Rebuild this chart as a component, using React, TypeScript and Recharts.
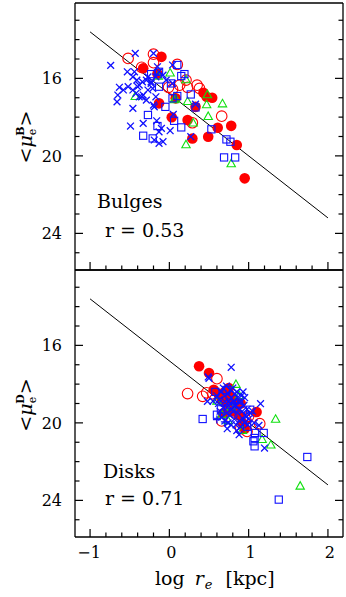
import React from "react";
import {
  ScatterChart,
  Scatter,
  XAxis,
  YAxis,
  ReferenceLine,
} from "recharts";

// ─── axis setup ───────────────────────────────────────────────────────────────
const X_DOMAIN: [number, number] = [-1.19, 2.19];
const Y_DOMAIN: [number, number] = [12.11, 25.89];
const X_TICKS = [-1, -0.8, -0.6, -0.4, -0.2, 0, 0.2, 0.4, 0.6, 0.8, 1, 1.2, 1.4, 1.6, 1.8, 2];
const X_MAJOR = [-1, 0, 1, 2];
const X_LABELS: Record<string, string> = { "-1": "\u22121", "0": "0", "1": "1", "2": "2" };
const Y_TICKS = [13, 14, 15, 16, 17, 18, 19, 20, 21, 22, 23, 24, 25];
const Y_MAJOR = [16, 20, 24];

// fitted relation  <mu_e> = a + b log r_e, same line in both panels
const FIT_START = { x: -1, y: 13.6 };
const FIT_END = { x: 2, y: 23.2 };

// ─── bulges ───────────────────────────────────────────────────────────────────
const BULGE_FILLED: [number, number][] = [
  [-0.10, 14.89], [-0.33, 15.48], [-0.15, 15.76], [-0.13, 17.29], [0.03, 18.01],
  [0.08, 17.03], [0.23, 18.15], [0.29, 19.10], [0.33, 17.47], [0.43, 16.74],
  [0.47, 16.95], [0.54, 17.00], [0.49, 19.01], [0.61, 18.55], [0.78, 18.45],
  [0.85, 19.44], [0.95, 21.16],
];
const BULGE_OPEN: [number, number][] = [
  [-0.52, 14.97], [-0.35, 15.43], [-0.20, 15.19], [-0.20, 14.75], [0.10, 15.28],
  [-0.01, 16.46], [0.21, 16.09], [0.23, 16.46], [0.35, 16.35], [0.38, 16.52],
  [0.29, 18.29], [0.66, 17.95], [0.13, 16.35], [0.04, 16.56],
];
const BULGE_TRI: [number, number][] = [
  [-0.43, 16.95], [0.01, 15.74], [-0.14, 15.90], [0.21, 16.09], [0.08, 17.08],
  [0.23, 17.21], [0.48, 16.86], [0.47, 17.38], [0.49, 17.98], [0.30, 18.32],
  [0.21, 19.44], [0.67, 17.33], [0.78, 20.42], [0.06, 17.12],
];
const BULGE_SQ: [number, number][] = [
  [0.10, 15.31], [-0.23, 15.78], [-0.13, 16.43], [0.02, 16.26], [0.15, 15.88],
  [0.19, 15.78], [0.04, 17.03], [0.10, 16.91], [0.27, 16.83], [0.33, 17.50],
  [-0.05, 17.47], [-0.27, 17.89], [0.06, 18.19], [-0.15, 18.46], [0.15, 18.53],
  [-0.33, 18.96], [-0.21, 19.10], [0.53, 18.63], [0.72, 19.15], [0.77, 19.27],
  [0.69, 20.08], [0.83, 20.08], [-0.13, 15.66],
];
const BULGE_X: [number, number][] = [
  [-0.74, 15.33], [-0.43, 14.71], [-0.20, 14.71], [-0.53, 15.66], [-0.44, 15.66],
  [-0.63, 16.46], [-0.58, 16.60], [-0.66, 17.21], [-0.46, 17.55], [-0.49, 18.46],
  [-0.33, 18.32], [-0.38, 16.35], [-0.34, 16.18], [-0.29, 16.09], [-0.27, 16.60],
  [-0.33, 16.86], [-0.38, 16.95], [-0.29, 17.12], [-0.23, 16.26], [-0.21, 16.52],
  [-0.16, 18.19], [-0.10, 18.58], [-0.13, 18.76], [-0.19, 19.18], [-0.08, 19.27],
  [-0.13, 19.35], [0.01, 18.70], [0.05, 17.86], [0.27, 19.01], [0.33, 17.33],
  [-0.19, 17.47], [-0.15, 15.40], [-0.13, 15.66], [-0.17, 15.92], [-0.04, 16.09],
  [-0.08, 15.83], [0.04, 15.31], [-0.46, 15.92], [-0.41, 16.09], [-0.40, 16.43],
  [-0.52, 16.43], [-0.46, 16.60], [-0.42, 16.77], [-0.35, 16.95], [-0.27, 15.92],
  [-0.23, 16.18], [-0.17, 16.95], [-0.20, 17.38], [0.04, 16.26], [-0.65, 16.86],
];

// ─── disks ────────────────────────────────────────────────────────────────────
const DISK_FILLED: [number, number][] = [
  [0.375, 17.08], [0.50, 17.43], [0.56, 18.29], [1.10, 19.44], [0.62, 18.5],
  [0.66, 18.8], [0.70, 18.4], [0.73, 19.0], [0.76, 18.6], [0.78, 19.4],
  [0.81, 18.8], [0.84, 19.2], [0.87, 19.6], [0.90, 19.0], [0.92, 20.0],
  [0.68, 19.5], [0.95, 20.3], [0.75, 18.2],
];
const DISK_OPEN: [number, number][] = [
  [0.23, 18.49], [0.42, 18.63], [0.47, 18.45], [0.60, 17.72], [1.14, 20.04],
  [0.98, 20.44], [0.55, 18.5], [0.96, 19.8], [0.66, 19.9], [0.90, 20.3], [1.0, 19.66],
];
const DISK_TRI: [number, number][] = [
  [1.34, 19.83], [1.28, 21.16], [1.65, 23.28], [0.84, 18.03], [1.17, 20.87],
  [0.66, 19.6], [0.78, 19.2], [0.92, 20.4], [0.60, 18.9], [0.88, 18.6], [0.74, 19.9],
];
const DISK_SQ: [number, number][] = [
  [0.42, 19.80], [0.60, 19.58], [1.08, 20.52], [1.075, 20.78], [1.06, 20.95],
  [1.075, 21.21], [1.19, 20.52], [1.74, 21.76], [1.38, 23.96], [1.02, 19.32],
  [0.58, 18.4], [0.72, 18.3], [0.98, 20.2], [0.88, 19.0], [0.65, 19.3],
];
const DISK_PLUS: [number, number][] = [[0.60, 19.83], [0.70, 19.95]];
const DISK_X: [number, number][] = [
  [0.78, 17.13], [0.49, 17.63], [0.50, 17.70], [1.15, 19.01], [1.20, 21.30],
  [0.88, 20.61], [1.13, 20.13], [0.48, 18.89], [0.55, 18.88],
  [0.65, 18.4], [0.68, 18.2], [0.70, 18.6], [0.72, 18.1], [0.74, 18.5],
  [0.75, 18.9], [0.77, 18.3], [0.78, 18.7], [0.80, 18.2], [0.81, 18.9],
  [0.83, 18.5], [0.84, 19.1], [0.86, 18.7], [0.88, 19.3], [0.90, 18.9],
  [0.92, 19.4], [0.94, 19.1], [0.96, 19.6], [0.98, 19.3], [1.00, 19.8],
  [1.02, 19.5], [0.62, 19.0], [0.64, 19.4], [0.66, 19.7], [0.68, 19.2],
  [0.70, 19.9], [0.72, 19.5], [0.74, 20.0], [0.76, 19.6], [0.78, 20.1],
  [0.80, 19.4], [0.82, 19.8], [0.84, 20.1], [0.86, 19.5], [0.88, 19.9],
  [0.90, 20.2], [0.93, 19.8], [0.95, 20.0], [0.97, 19.7], [0.99, 20.1],
  [0.70, 18.9], [0.73, 19.2], [0.76, 19.0], [0.79, 19.3], [0.82, 19.1],
  [0.85, 18.4], [0.87, 18.9], [0.91, 18.6], [0.93, 18.4], [0.60, 18.6],
  [0.63, 18.8], [1.05, 19.4], [1.07, 20.0], [0.95, 18.7], [0.73, 20.3], [0.85, 20.4],
];

const RED = "#ff0000";
const BLUE = "#1010ff";
const GREEN = "#10e010";
const FONT = "'DejaVu Serif', serif";
const MAJOR_LEN = 8;
const MINOR_LEN = 4.5;

const pts = (a: [number, number][]) => a.map(([x, y]) => ({ x, y }));

// ─── marker glyphs ────────────────────────────────────────────────────────────
const FilledDot = (p: any) => <circle cx={p.cx} cy={p.cy} r={5.3} fill={RED} />;
const OpenDot = (p: any) => (
  <circle cx={p.cx} cy={p.cy} r={5.3} fill="none" stroke={RED} strokeWidth={1.1} />
);
const Tri = (p: any) => (
  <path
    d={`M${p.cx},${p.cy - 4.8}L${p.cx + 4.2},${p.cy + 2.7}L${p.cx - 4.2},${p.cy + 2.7}Z`}
    fill="none"
    stroke={GREEN}
    strokeWidth={1.1}
  />
);
const Sq = (p: any) => (
  <rect x={p.cx - 3.6} y={p.cy - 3.6} width={7.2} height={7.2} fill="none" stroke={BLUE} strokeWidth={1.1} />
);
const XMark = (p: any) => (
  <path
    d={`M${p.cx - 3.4},${p.cy - 3.4}L${p.cx + 3.4},${p.cy + 3.4}M${p.cx - 3.4},${p.cy + 3.4}L${p.cx + 3.4},${p.cy - 3.4}`}
    stroke={BLUE}
    strokeWidth={1.3}
  />
);
const PlusMark = (p: any) => (
  <path
    d={`M${p.cx - 4},${p.cy}L${p.cx + 4},${p.cy}M${p.cx},${p.cy - 4}L${p.cx},${p.cy + 4}`}
    stroke={BLUE}
    strokeWidth={1.3}
  />
);

// ─── inward ticks ─────────────────────────────────────────────────────────────
const xTick = (dir: 1 | -1, labels: boolean) => (p: any) => {
  const v = p.payload.value;
  const major = X_MAJOR.includes(v);
  const len = major ? MAJOR_LEN : MINOR_LEN;
  return (
    <g>
      <line x1={p.x} y1={p.y} x2={p.x} y2={p.y + dir * len} stroke="#000" strokeWidth={1.2} />
      {labels && major && (
        <text x={p.x + (v < 0 ? -1 : 2)} y={p.y + 21} textAnchor="middle" fontFamily={FONT} fontSize={16} fill="#000">
          {X_LABELS[String(v)]}
        </text>
      )}
    </g>
  );
};

const yTick = (dir: 1 | -1, labels: boolean) => (p: any) => {
  const v = p.payload.value;
  const major = Y_MAJOR.includes(v);
  const len = major ? MAJOR_LEN : MINOR_LEN;
  return (
    <g>
      <line x1={p.x} y1={p.y} x2={p.x + dir * len} y2={p.y} stroke="#000" strokeWidth={1.2} />
      {labels && major && (
        <text x={p.x - 13} y={p.y + 6} textAnchor="end" fontFamily={FONT} fontSize={16} fill="#000">
          {v}
        </text>
      )}
    </g>
  );
};

type PanelProps = {
  height: number;
  margin: { top: number; right: number; bottom: number; left: number };
  filled: [number, number][];
  open: [number, number][];
  tri: [number, number][];
  sq: [number, number][];
  cross: [number, number][];
  plus?: [number, number][];
  xLabels: boolean;
};

// each axis takes 1px of room, margins below are reduced by that much
function Panel({ height, margin, filled, open, tri, sq, cross, plus, xLabels }: PanelProps) {
  const axisCommon = {
    type: "number" as const,
    allowDataOverflow: true,
    tickLine: false,
    tickSize: 0,
    tickMargin: 0,
    interval: 0 as const,
    axisLine: { stroke: "#000", strokeWidth: 1.3 },
  };
  return (
    <ScatterChart width={346} height={height} margin={margin}>
      <XAxis {...axisCommon} xAxisId="b" dataKey="x" domain={X_DOMAIN} ticks={X_TICKS} height={1} tick={xTick(-1, xLabels)} />
      <XAxis {...axisCommon} xAxisId="t" orientation="top" domain={X_DOMAIN} ticks={X_TICKS} height={1} tick={xTick(1, false)} />
      <YAxis {...axisCommon} yAxisId="l" dataKey="y" reversed domain={Y_DOMAIN} ticks={Y_TICKS} width={1} tick={yTick(1, true)} />
      <YAxis {...axisCommon} yAxisId="r" orientation="right" reversed domain={Y_DOMAIN} ticks={Y_TICKS} width={1} tick={yTick(-1, false)} />
      <ReferenceLine xAxisId="b" yAxisId="l" segment={[FIT_START, FIT_END]} stroke="#000" strokeWidth={1} />
      <Scatter xAxisId="b" yAxisId="l" data={pts(filled)} shape={FilledDot} isAnimationActive={false} />
      <Scatter xAxisId="b" yAxisId="l" data={pts(open)} shape={OpenDot} isAnimationActive={false} />
      <Scatter xAxisId="b" yAxisId="l" data={pts(tri)} shape={Tri} isAnimationActive={false} />
      <Scatter xAxisId="b" yAxisId="l" data={pts(sq)} shape={Sq} isAnimationActive={false} />
      <Scatter xAxisId="b" yAxisId="l" data={pts(cross)} shape={XMark} isAnimationActive={false} />
      {plus && <Scatter xAxisId="b" yAxisId="l" data={pts(plus)} shape={PlusMark} isAnimationActive={false} />}
    </ScatterChart>
  );
}

export default function App() {
  return (
    <div style={{ position: "absolute", left: 0, top: 0, width: 346, height: 597, background: "#fff" }}>
      <div style={{ position: "absolute", left: 0, top: 0 }}>
        <Panel
          height={272}
          margin={{ top: 2, right: 2, bottom: 1, left: 74 }}
          filled={BULGE_FILLED}
          open={BULGE_OPEN}
          tri={BULGE_TRI}
          sq={BULGE_SQ}
          cross={BULGE_X}
          xLabels={false}
        />
      </div>
      <div style={{ position: "absolute", left: 0, top: 260 }}>
        <Panel
          height={337}
          margin={{ top: 9, right: 2, bottom: 59, left: 74 }}
          filled={DISK_FILLED}
          open={DISK_OPEN}
          tri={DISK_TRI}
          sq={DISK_SQ}
          cross={DISK_X}
          plus={DISK_PLUS}
          xLabels={true}
        />
      </div>
      <svg width={346} height={597} style={{ position: "absolute", left: 0, top: 0, pointerEvents: "none" }}>
        <g fontFamily={FONT} fontSize={19} fill="#000">
          <text x={97} y={208}>Bulges</text>
          <text x={105} y={237}>r = 0.53</text>
          <text x={103} y={478}>Disks</text>
          <text x={105} y={505}>r = 0.71</text>
          <text x={155} y={585}>
            log
            <tspan dx={10} fontStyle="italic">r</tspan>
            <tspan fontStyle="italic" fontSize={13} dx={1} dy={4}>e</tspan>
            <tspan dx={13} dy={-4}>[kpc]</tspan>
          </text>
        </g>
        {[{ cy: 137, sup: "B" }, { cy: 405, sup: "D" }].map((l) => (
          <text
            key={l.sup}
            x={26}
            y={l.cy}
            transform={`rotate(-90, 26, ${l.cy}) translate(0, 6)`}
            textAnchor="middle"
            fontFamily={FONT}
            fontSize={19}
            fill="#000"
          >
            {"<"}
            <tspan fontStyle="italic">μ</tspan>
            <tspan fontSize={11} dy={4}>e</tspan>
            <tspan fontSize={11} fontWeight="bold" dx={-7} dy={-12}>{l.sup}</tspan>
            <tspan dy={8}>{">"}</tspan>
          </text>
        ))}
      </svg>
    </div>
  );
}
